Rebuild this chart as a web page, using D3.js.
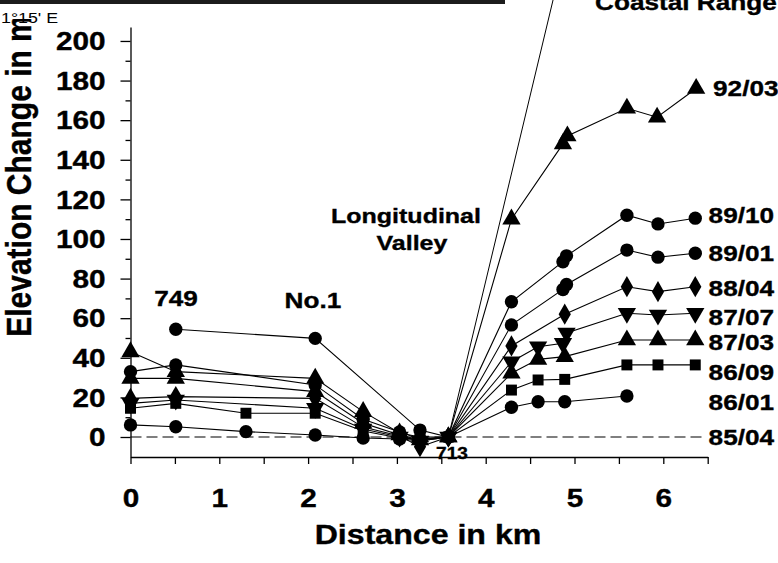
<!DOCTYPE html>
<html>
<head>
<meta charset="utf-8">
<script src="https://cdn.jsdelivr.net/npm/d3@7"></script>
<style>
  body { margin: 0; background: #fff; }
  svg { display: block; font-family: "Liberation Sans", Arial, sans-serif; font-weight: bold; }
  svg text { stroke: #000; stroke-width: 0.35px; }
</style>
</head>
<body>
<svg id="viz" width="778" height="563"></svg>
<script>
// levelling profiles, elevation change (m) vs distance (km)
var seriesNames  = ["92/03", "89/10", "89/01", "88/04", "87/07", "87/03", "86/09", "86/01"];
var seriesShapes = ["triangle", "circle", "circle", "diamond", "triangleDown", "triangle", "square", "circle"];

var dist9203 = [0, 0.51, 2.08, 2.62, 3.03, 3.26, 3.58, 4.29, 4.87, 4.92, 5.59, 5.93, 6.37];
var elev9203 = [43, 33, 29.6, 12.8, 2, 0, 0, 110, 148, 152, 166, 161.5, 176];

var dist8910 = [0.51, 2.08, 3.26, 3.58, 4.29, 4.87, 4.91, 5.59, 5.94, 6.36];
var elev8910 = [54.4, 49.8, 3.5, 0, 68.3, 88.5, 91.5, 112, 107.6, 110.5];

var dist8901 = [0, 0.51, 2.08, 2.62, 3.03, 3.26, 3.58, 4.29, 4.87, 4.91, 5.59, 5.94, 6.36];
var elev8901 = [33, 36.4, 26.3, 9, 2.5, -1, 0, 56.6, 74.5, 77, 94.4, 90.8, 92.8];

var dist8804 = [0, 0.51, 2.08, 2.62, 3.03, 3.26, 3.58, 4.29, 4.89, 5.59, 5.94, 6.36];
var elev8804 = [19.5, 20.4, 19.5, 5, 0.5, -4.9, 0, 46, 62, 75.9, 73.4, 75.9];

var dist8707 = [0, 0.51, 2.08, 2.62, 3.03, 3.26, 3.58, 4.29, 4.59, 4.87, 4.91, 5.59, 5.94, 6.36];
var elev8707 = [17, 18.7, 14.5, 4, 0, -2, 0, 38, 45.6, 47.3, 52.5, 62.5, 61.6, 62.5];

var dist8703 = [0, 0.51, 2.08, 2.62, 3.03, 3.26, 3.58, 4.29, 4.59, 4.89, 5.59, 5.94, 6.36];
var elev8703 = [29.6, 29.6, 22.9, 7, 1, -1.5, 0, 32.2, 39.2, 40.6, 49, 49, 49];

var dist8609 = [0, 0.51, 1.3, 2.08, 2.62, 3.03, 3.26, 3.58, 4.29, 4.59, 4.89, 5.59, 5.94, 6.36];
var elev8609 = [14.5, 17, 12, 12, 3, -0.5, -1, 0, 23.7, 28.8, 29.1, 36.4, 36.4, 36.4];

var dist8601 = [0, 0.51, 1.3, 2.08, 2.62, 3.03, 3.26, 3.58, 4.29, 4.59, 4.89, 5.59];
var elev8601 = [6.1, 5.2, 2.7, 1, -0.5, -1, -2, 0, 15, 17.8, 17.8, 20.7];

var seriesDist = [dist9203, dist8910, dist8901, dist8804, dist8707, dist8703, dist8609, dist8601];
var seriesElev = [elev9203, elev8910, elev8901, elev8804, elev8707, elev8703, elev8609, elev8601];

// label heights (m) at the right end
var labelNames = ["92/03", "89/10", "89/01", "88/04", "87/07", "87/03", "86/09", "86/01", "85/04"];
var labelElev  = [176, 112, 93, 75.3, 60.8, 48, 33, 17.8, 0];

// reference survey 85/04 and the steep line leaving benchmark 713
var baseDist = [0, 6.45];
var baseElev = [0, 0];
var steepDist = [3.58, 4.76];
var steepElev = [0, 221];

var yTicks = d3.range(0, 201, 20);
var yMinor = d3.range(10, 201, 20);
var xTicks = d3.range(0, 6.51, 0.5);

var svg = d3.select("#viz");
var K = 1.19; // scanned figure is wider than tall

function stretch(sel) {
    sel.each(function() {
        var t = d3.select(this);
        var x = +t.attr("x") || 0;
        t.attr("transform", "translate(" + (x * (1 - K)) + ",0) scale(" + K + ",1)");
    });
}

var x = d3.scaleLinear().domain([0, 6.5]).range([130.5, 707.7]);
var y = d3.scaleLinear().domain([-10, 207]).range([456.8, 27.1]);

var line = d3.line().x(d => x(d[0])).y(d => y(d[1]));

// dashed 85/04 line
svg.append("path")
    .attr("d", line(d3.zip(baseDist, baseElev)))
    .attr("fill", "none")
    .attr("stroke", "#555")
    .attr("stroke-width", 1.5)
    .attr("stroke-dasharray", "11,5");

svg.append("path")
    .attr("d", line(d3.zip(steepDist, steepElev)))
    .attr("fill", "none")
    .attr("stroke", "#000")
    .attr("stroke-width", 1);

var shapes = {
    circle: d3.symbol().type(d3.symbolCircle).size(140),
    square: d3.symbol().type(d3.symbolSquare).size(120),
    triangle: d3.symbol().type(d3.symbolTriangle).size(145),
    triangleDown: d3.symbol().type(d3.symbolTriangle).size(145),
    diamond: d3.symbol().type(d3.symbolDiamond).size(130)
};

seriesNames.forEach(function(name, i) {
    var pts = d3.zip(seriesDist[i], seriesElev[i]);
    var g = svg.append("g");
    g.append("path")
        .attr("d", line(pts))
        .attr("fill", "none")
        .attr("stroke", "#000")
        .attr("stroke-width", 1.1);
    g.selectAll("path.pt")
        .data(pts)
        .enter()
        .append("path")
        .attr("class", "pt")
        .attr("d", shapes[seriesShapes[i]])
        .attr("transform", d => "translate(" + x(d[0]) + "," + y(d[1]) + ")" + (seriesShapes[i] == "triangleDown" ? " rotate(180)" : ""))
        .attr("fill", "#000");
});

// axes
var yAxis = svg.append("g")
    .attr("transform", "translate(130.5,0)")
    .call(d3.axisLeft(y).tickValues(yTicks).tickSize(10).tickSizeOuter(0));
yAxis.selectAll("text")
    .attr("x", -25)
    .attr("dy", "0.35em")
    .style("font-size", "25px")
    .style("font-family", "Liberation Sans, Arial, sans-serif")
    .style("font-weight", "bold")
    .attr("fill", "#000");
svg.append("g")
    .attr("transform", "translate(130.5,0)")
    .call(d3.axisLeft(y).tickValues(yMinor).tickSize(5).tickFormat(""))
    .select(".domain").remove();

var xAxis = svg.append("g")
    .attr("transform", "translate(0,457)")
    .call(d3.axisBottom(x).tickValues(xTicks).tickSize(7).tickSizeOuter(0)
        .tickFormat(d => d % 1 == 0 ? d : ""));
xAxis.selectAll("text")
    .attr("y", 50)
    .attr("dy", 0)
    .style("font-size", "25px")
    .style("font-family", "Liberation Sans, Arial, sans-serif")
    .style("font-weight", "bold")
    .attr("fill", "#000");

svg.selectAll(".domain, .tick line").attr("stroke", "#000").attr("stroke-width", 1.3);

stretch(yAxis.selectAll("text"));
stretch(xAxis.selectAll("text"));

// series labels
svg.append("g").selectAll("text")
    .data(labelNames)
    .enter()
    .append("text")
    .attr("x", (d, i) => i == 0 ? x(6.56) : x(6.51))
    .attr("y", (d, i) => y(labelElev[i]))
    .attr("dy", "0.36em")
    .style("font-size", "22px")
    .text(d => d)
    .call(stretch);

// annotations
function note(txt, px, py, size, anchor) {
    svg.append("text")
        .attr("x", px).attr("y", py)
        .attr("text-anchor", anchor || "middle")
        .style("font-size", size + "px")
        .text(txt)
        .call(stretch);
}
note("749", 176, 306, 22);
note("No.1", 313, 308, 22);
note("Longitudinal", 406, 223, 21);
note("Valley", 412, 250, 21);
note("713", 452, 459, 16);
note("Coastal Range", 595, 10, 22, "start");

// axis titles
note("Distance in km", 428, 544, 27);
svg.append("text")
    .attr("transform", "translate(31,176) scale(1.15,1) rotate(-90)")
    .attr("text-anchor", "middle")
    .style("font-size", "30px")
    .text("Elevation Change in m");

// scraps of the page above the figure
svg.append("rect").attr("x", 0).attr("y", 0).attr("width", 62).attr("height", 19).attr("fill", "#fff");
svg.append("rect").attr("x", 0).attr("y", 0).attr("width", 505).attr("height", 4).attr("fill", "#1c1c1c");
svg.append("text")
    .attr("x", 1).attr("y", 23)
    .style("font-size", "15px")
    .style("font-weight", "normal")
    .style("stroke-width", 0)
    .text("1°15' E")
    .call(stretch);
</script>
</body>
</html>
